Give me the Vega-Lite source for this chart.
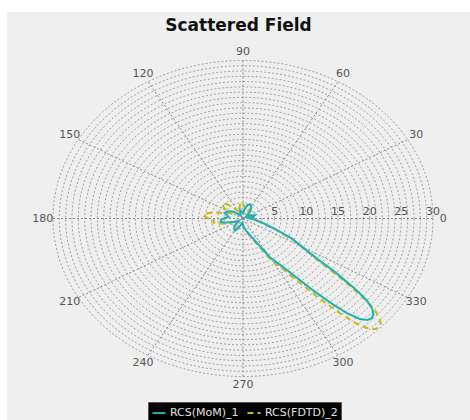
{
  "$schema": "https://vega.github.io/schema/vega-lite/v6.json",
  "width": 463,
  "height": 408,
  "autosize": {"type": "none"},
  "padding": {"left": 7, "top": 12, "right": 0, "bottom": 0},
  "background": "#ffffff",
  "config": {"view": {"fill": "#efefef", "stroke": null}},
  "title": {"text": "Scattered Field", "font": "DejaVu Sans", "fontSize": 17, "fontWeight": "bold", "color": "#111111", "offset": -23, "anchor": "middle"},
  "layer": [
    {
      "data": {"values": [{"ring":1},{"ring":2},{"ring":3},{"ring":4},{"ring":5},{"ring":6},{"ring":7},{"ring":8},{"ring":9},{"ring":10},{"ring":11},{"ring":12},{"ring":13},{"ring":14},{"ring":15},{"ring":16},{"ring":17},{"ring":18},{"ring":19},{"ring":20},{"ring":21},{"ring":22},{"ring":23},{"ring":24},{"ring":25},{"ring":26},{"ring":27},{"ring":28},{"ring":29},{"ring":30}]},
      "transform": [{"calculate": "0", "as": "o"}],
      "mark": {"type": "point", "shape": "M 1 0 C 1 0.4592 0.5523 0.8315 0 0.8315 C -0.5523 0.8315 -1 0.4592 -1 0 C -1 -0.4592 -0.5523 -0.8315 0 -0.8315 C 0.5523 -0.8315 1 -0.4592 1 0 Z", "filled": false, "color": "#a2a2a2", "strokeWidth": 1, "strokeDash": [2, 2], "opacity": 1},
      "encoding": {
        "x": {"field": "o", "type": "quantitative", "scale": {"domain": [-37.26, 35.84], "nice": false, "zero": false}, "axis": null},
        "y": {"field": "o", "type": "quantitative", "scale": {"domain": [-38.26, 39.21], "nice": false, "zero": false}, "axis": null},
        "size": {"field": "ring", "type": "quantitative", "scale": {"type": "pow", "exponent": 2, "domain": [0, 30], "range": [0, 144430]}, "legend": null}
      }
    },
    {
      "data": {"values": [{"a":0},{"a":30},{"a":60},{"a":90},{"a":120},{"a":150},{"a":180},{"a":210},{"a":240},{"a":270},{"a":300},{"a":330}]},
      "transform": [
        {"calculate": "0", "as": "o"},
        {"calculate": "30*cos(datum.a*PI/180)", "as": "sx"},
        {"calculate": "30*sin(datum.a*PI/180)", "as": "sy"}
      ],
      "mark": {"type": "rule", "color": "#8a8a8a", "strokeWidth": 1, "strokeDash": [2, 2]},
      "encoding": {
        "x": {"field": "o", "type": "quantitative", "scale": {"domain": [-37.26, 35.84], "nice": false, "zero": false}, "axis": null},
        "y": {"field": "o", "type": "quantitative", "scale": {"domain": [-38.26, 39.21], "nice": false, "zero": false}, "axis": null},
        "x2": {"field": "sx"},
        "y2": {"field": "sy"}
      }
    },
    {
      "data": {"values": [
        {"series":"RCS(FDTD)_2","a":0,"r":1.6},{"series":"RCS(FDTD)_2","a":5,"r":1.0},{"series":"RCS(FDTD)_2","a":12,"r":0.8},{"series":"RCS(FDTD)_2","a":20,"r":1.5},{"series":"RCS(FDTD)_2","a":28,"r":1.1},{"series":"RCS(FDTD)_2","a":36,"r":0.5},{"series":"RCS(FDTD)_2","a":44,"r":1.0},{"series":"RCS(FDTD)_2","a":52,"r":1.4},{"series":"RCS(FDTD)_2","a":60,"r":1.9},{"series":"RCS(FDTD)_2","a":68,"r":1.5},{"series":"RCS(FDTD)_2","a":76,"r":1.6},{"series":"RCS(FDTD)_2","a":84,"r":2.3},{"series":"RCS(FDTD)_2","a":91,"r":2.9},{"series":"RCS(FDTD)_2","a":97,"r":3.1},{"series":"RCS(FDTD)_2","a":104,"r":2.3},{"series":"RCS(FDTD)_2","a":112,"r":1.3},{"series":"RCS(FDTD)_2","a":120,"r":1.6},{"series":"RCS(FDTD)_2","a":127,"r":2.8},{"series":"RCS(FDTD)_2","a":134,"r":3.8},{"series":"RCS(FDTD)_2","a":140,"r":4.3},{"series":"RCS(FDTD)_2","a":146,"r":3.6},{"series":"RCS(FDTD)_2","a":153,"r":2.2},{"series":"RCS(FDTD)_2","a":160,"r":3.0},{"series":"RCS(FDTD)_2","a":166,"r":4.8},{"series":"RCS(FDTD)_2","a":171,"r":6.0},{"series":"RCS(FDTD)_2","a":175,"r":6.3},{"series":"RCS(FDTD)_2","a":179,"r":5.6},{"series":"RCS(FDTD)_2","a":184,"r":4.6},{"series":"RCS(FDTD)_2","a":189,"r":4.8},{"series":"RCS(FDTD)_2","a":194,"r":4.2},{"series":"RCS(FDTD)_2","a":200,"r":2.8},{"series":"RCS(FDTD)_2","a":207,"r":1.4},{"series":"RCS(FDTD)_2","a":215,"r":0.8},{"series":"RCS(FDTD)_2","a":223,"r":1.4},{"series":"RCS(FDTD)_2","a":231,"r":2.1},{"series":"RCS(FDTD)_2","a":239,"r":2.4},{"series":"RCS(FDTD)_2","a":246,"r":1.9},{"series":"RCS(FDTD)_2","a":254,"r":1.2},{"series":"RCS(FDTD)_2","a":262,"r":0.9},{"series":"RCS(FDTD)_2","a":270,"r":1.4},{"series":"RCS(FDTD)_2","a":276.8,"r":2.0},{"series":"RCS(FDTD)_2","a":286.6,"r":3.2},{"series":"RCS(FDTD)_2","a":294.4,"r":5.4},{"series":"RCS(FDTD)_2","a":299.3,"r":9.1},{"series":"RCS(FDTD)_2","a":303.3,"r":11.6},{"series":"RCS(FDTD)_2","a":306.2,"r":15.0},{"series":"RCS(FDTD)_2","a":308.2,"r":18.8},{"series":"RCS(FDTD)_2","a":310.1,"r":23.0},{"series":"RCS(FDTD)_2","a":311.6,"r":26.3},{"series":"RCS(FDTD)_2","a":313.1,"r":28.4},{"series":"RCS(FDTD)_2","a":314.5,"r":29.5},{"series":"RCS(FDTD)_2","a":316,"r":29.8},{"series":"RCS(FDTD)_2","a":317.5,"r":29.5},{"series":"RCS(FDTD)_2","a":318.9,"r":28.5},{"series":"RCS(FDTD)_2","a":320.4,"r":26.8},{"series":"RCS(FDTD)_2","a":321.9,"r":23.6},{"series":"RCS(FDTD)_2","a":323.8,"r":19.1},{"series":"RCS(FDTD)_2","a":325.8,"r":14.8},{"series":"RCS(FDTD)_2","a":328.7,"r":11.6},{"series":"RCS(FDTD)_2","a":332.7,"r":9.1},{"series":"RCS(FDTD)_2","a":337.6,"r":5.6},{"series":"RCS(FDTD)_2","a":344.4,"r":3.2},{"series":"RCS(FDTD)_2","a":351.3,"r":2.0},{"series":"RCS(FDTD)_2","a":355,"r":2.3},{"series":"RCS(FDTD)_2","a":360,"r":1.6},
        {"series":"RCS(MoM)_1","a":0,"r":1.2},{"series":"RCS(MoM)_1","a":3,"r":1.0},{"series":"RCS(MoM)_1","a":10,"r":1.6},{"series":"RCS(MoM)_1","a":18,"r":2.0},{"series":"RCS(MoM)_1","a":26,"r":1.2},{"series":"RCS(MoM)_1","a":34,"r":0.6},{"series":"RCS(MoM)_1","a":42,"r":1.0},{"series":"RCS(MoM)_1","a":50,"r":1.8},{"series":"RCS(MoM)_1","a":58,"r":2.5},{"series":"RCS(MoM)_1","a":66,"r":2.9},{"series":"RCS(MoM)_1","a":74,"r":2.7},{"series":"RCS(MoM)_1","a":82,"r":1.8},{"series":"RCS(MoM)_1","a":90,"r":1.0},{"series":"RCS(MoM)_1","a":98,"r":1.3},{"series":"RCS(MoM)_1","a":106,"r":1.6},{"series":"RCS(MoM)_1","a":114,"r":1.1},{"series":"RCS(MoM)_1","a":122,"r":0.6},{"series":"RCS(MoM)_1","a":130,"r":1.0},{"series":"RCS(MoM)_1","a":138,"r":1.8},{"series":"RCS(MoM)_1","a":146,"r":2.5},{"series":"RCS(MoM)_1","a":154,"r":2.9},{"series":"RCS(MoM)_1","a":160,"r":3.1},{"series":"RCS(MoM)_1","a":166,"r":2.6},{"series":"RCS(MoM)_1","a":172,"r":2.3},{"series":"RCS(MoM)_1","a":178,"r":2.8},{"series":"RCS(MoM)_1","a":184,"r":3.5},{"series":"RCS(MoM)_1","a":190,"r":3.6},{"series":"RCS(MoM)_1","a":196,"r":2.8},{"series":"RCS(MoM)_1","a":204,"r":1.6},{"series":"RCS(MoM)_1","a":212,"r":0.8},{"series":"RCS(MoM)_1","a":220,"r":1.2},{"series":"RCS(MoM)_1","a":228,"r":2.0},{"series":"RCS(MoM)_1","a":236,"r":2.5},{"series":"RCS(MoM)_1","a":242,"r":2.6},{"series":"RCS(MoM)_1","a":248,"r":2.0},{"series":"RCS(MoM)_1","a":256,"r":1.1},{"series":"RCS(MoM)_1","a":264,"r":0.8},{"series":"RCS(MoM)_1","a":270,"r":1.3},{"series":"RCS(MoM)_1","a":277,"r":1.9},{"series":"RCS(MoM)_1","a":287,"r":3.0},{"series":"RCS(MoM)_1","a":295,"r":5.0},{"series":"RCS(MoM)_1","a":300,"r":8.5},{"series":"RCS(MoM)_1","a":304,"r":10.8},{"series":"RCS(MoM)_1","a":307,"r":14.0},{"series":"RCS(MoM)_1","a":309,"r":17.5},{"series":"RCS(MoM)_1","a":311,"r":21.5},{"series":"RCS(MoM)_1","a":312.5,"r":24.5},{"series":"RCS(MoM)_1","a":314,"r":26.5},{"series":"RCS(MoM)_1","a":315.5,"r":27.5},{"series":"RCS(MoM)_1","a":317,"r":27.8},{"series":"RCS(MoM)_1","a":318.5,"r":27.5},{"series":"RCS(MoM)_1","a":320,"r":26.6},{"series":"RCS(MoM)_1","a":321.5,"r":25.0},{"series":"RCS(MoM)_1","a":323,"r":22.0},{"series":"RCS(MoM)_1","a":325,"r":17.8},{"series":"RCS(MoM)_1","a":327,"r":13.8},{"series":"RCS(MoM)_1","a":330,"r":10.8},{"series":"RCS(MoM)_1","a":334,"r":8.5},{"series":"RCS(MoM)_1","a":339,"r":5.2},{"series":"RCS(MoM)_1","a":346,"r":3.0},{"series":"RCS(MoM)_1","a":353,"r":1.8},{"series":"RCS(MoM)_1","a":360,"r":1.2}
      ]},
      "transform": [
        {"calculate": "datum.r*cos(datum.a*PI/180)", "as": "x"},
        {"calculate": "datum.r*sin(datum.a*PI/180)", "as": "y"}
      ],
      "mark": {"type": "line", "strokeWidth": 2},
      "encoding": {
        "x": {"field": "x", "type": "quantitative", "scale": {"domain": [-37.26, 35.84], "nice": false, "zero": false}, "axis": null},
        "y": {"field": "y", "type": "quantitative", "scale": {"domain": [-38.26, 39.21], "nice": false, "zero": false}, "axis": null},
        "order": {"field": "a", "type": "quantitative"},
        "color": {"field": "series", "type": "nominal", "scale": {"domain": ["RCS(MoM)_1", "RCS(FDTD)_2"], "range": ["#1cb0b6", "#c4bc0c"]},
          "legend": {"orient": "none", "legendX": 141, "legendY": 390, "direction": "horizontal", "title": null, "fillColor": "#000000", "strokeColor": "#555555", "padding": 3, "labelColor": "#e0e0e0", "labelFont": "DejaVu Sans", "labelFontSize": 11, "symbolType": "stroke", "symbolStrokeWidth": 2, "symbolSize": 170, "columnPadding": 4, "labelOffset": 3}},
        "strokeDash": {"field": "series", "type": "nominal", "scale": {"domain": ["RCS(MoM)_1", "RCS(FDTD)_2"], "range": [[1, 0], [6, 4]]},
          "legend": {"orient": "none", "legendX": 141, "legendY": 390, "direction": "horizontal", "title": null, "fillColor": "#000000", "strokeColor": "#555555", "padding": 3, "labelColor": "#e0e0e0", "labelFont": "DejaVu Sans", "labelFontSize": 11, "symbolType": "stroke", "symbolStrokeWidth": 2, "symbolSize": 170, "columnPadding": 4, "labelOffset": 3}}
      }
    },
    {
      "data": {"values": [{"a":0,"t":"0"},{"a":30,"t":"30"},{"a":60,"t":"60"},{"a":90,"t":"90"},{"a":120,"t":"120"},{"a":150,"t":"150"},{"a":180,"t":"180"},{"a":210,"t":"210"},{"a":240,"t":"240"},{"a":270,"t":"270"},{"a":300,"t":"300"},{"a":330,"t":"330"}]},
      "transform": [
        {"calculate": "31.6*cos(datum.a*PI/180)", "as": "lx"},
        {"calculate": "31.6*sin(datum.a*PI/180)", "as": "ly"}
      ],
      "mark": {"type": "text", "font": "DejaVu Sans", "fontSize": 11, "color": "#555555", "align": "center", "baseline": "middle"},
      "encoding": {
        "x": {"field": "lx", "type": "quantitative", "scale": {"domain": [-37.26, 35.84], "nice": false, "zero": false}, "axis": null},
        "y": {"field": "ly", "type": "quantitative", "scale": {"domain": [-38.26, 39.21], "nice": false, "zero": false}, "axis": null},
        "text": {"field": "t", "type": "nominal"}
      }
    },
    {
      "data": {"values": [{"v":5},{"v":10},{"v":15},{"v":20},{"v":25},{"v":30}]},
      "transform": [{"calculate": "0", "as": "o"}],
      "mark": {"type": "text", "font": "DejaVu Sans", "fontSize": 11, "color": "#555555", "align": "center", "baseline": "middle", "dy": -7},
      "encoding": {
        "x": {"field": "v", "type": "quantitative", "scale": {"domain": [-37.26, 35.84], "nice": false, "zero": false}, "axis": null},
        "y": {"field": "o", "type": "quantitative", "scale": {"domain": [-38.26, 39.21], "nice": false, "zero": false}, "axis": null},
        "text": {"field": "v", "type": "quantitative"}
      }
    }
  ]
}
